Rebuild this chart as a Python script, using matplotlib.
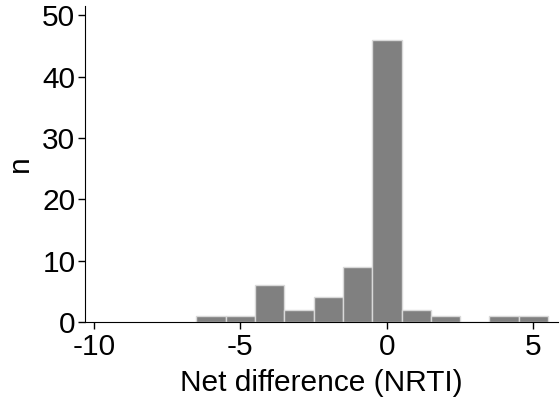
import matplotlib
matplotlib.use('Agg')
import matplotlib.pyplot as plt

# histogram of net difference, bin centres and counts
centres = [-6, -5, -4, -3, -2, -1, 0, 1, 2, 3, 4, 5]
counts = [1, 1, 6, 2, 4, 9, 46, 2, 1, 0, 1, 1]

plt.rcParams['font.family'] = ['Liberation Sans', 'DejaVu Sans']
plt.rcParams['axes.unicode_minus'] = False

fig = plt.figure(figsize=(5.6, 4.03), dpi=100)
ax = fig.add_axes([0.152, 0.201, 0.845, 0.784])

ax.bar(centres, counts, width=1, color='#808080', edgecolor='#d9d9d9', linewidth=1.0)

ax.set_xlim(-10.3, 5.85)
ax.set_ylim(0, 51.5)
ax.set_xticks([-10, -5, 0, 5])
ax.set_yticks([0, 10, 20, 30, 40, 50])
ax.spines['top'].set_visible(False)
ax.spines['right'].set_visible(False)
ax.tick_params(labelsize=21.5, length=5, width=1, pad=2)
ax.tick_params(axis='x', pad=3)
ax.set_xlabel('Net difference (NRTI)', fontsize=21.5, labelpad=6)
ax.set_ylabel('n', fontsize=21.5, labelpad=6)

fig.savefig('out.png', dpi=100)
